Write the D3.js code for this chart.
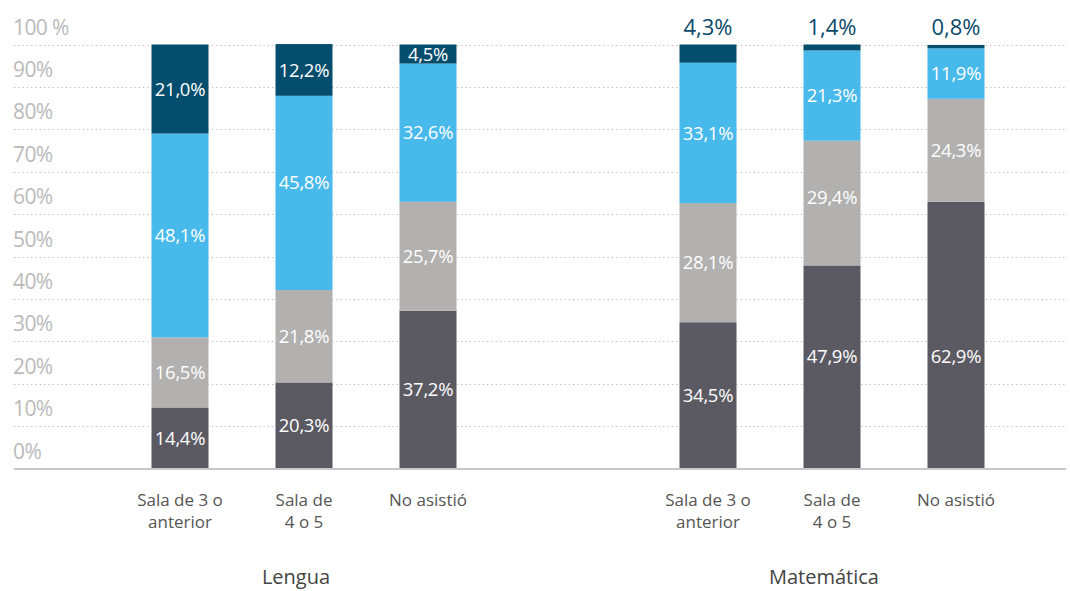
<!DOCTYPE html>
<html>
<head>
<meta charset="utf-8">
<script src="https://cdn.jsdelivr.net/npm/d3@7"></script>
<style>
  html, body { margin: 0; padding: 0; background: #fff; }
  svg { display: block; font-family: "Open Sans", Roboto, sans-serif; }
</style>
</head>
<body>
<svg id="chart" width="1070" height="591"></svg>
<script>
// ---- DATA ----
const groups = ["Lengua", "Matemática"];
const categories = [["Sala de 3 o", "anterior"], ["Sala de", "4 o 5"], ["No asistió"]];
const seriesNames = ["s1", "s2", "s3", "s4"];
const lenguaValues = [
  [14.4, 16.5, 48.1, 21.0],
  [20.3, 21.8, 45.8, 12.2],
  [37.2, 25.7, 32.6, 4.5]
];
const matematicaValues = [
  [34.5, 28.1, 33.1, 4.3],
  [47.9, 29.4, 21.3, 1.4],
  [62.9, 24.3, 11.9, 0.8]
];
const yTickValues = [0, 10, 20, 30, 40, 50, 60, 70, 80, 90, 100];
const yTickLabels = ["0%", "10%", "20%", "30%", "40%", "50%", "60%", "70%", "80%", "90%", "100 %"];

// ---- STYLE ----
const colors = ["#5b5a63", "#b2b1b0", "#47b9ea", "#044d6d"];
const barW = 57;
// small manual nudges of in-bar labels (pixels), as in the original artwork
const labelNudge = { "0-1-2": -11, "1-1-0": -11, "1-2-0": 21, "1-1-1": -6 };

const svg = d3.select("#chart");
const locale = d3.formatLocale({ decimal: ",", thousands: ".", grouping: [3], currency: ["", ""] });
const fmt = v => locale.format(".1f")(v) + "%";

const y = d3.scaleLinear().domain([0, 100]).range([468.5, 44.5]);
const x0 = d3.scalePoint().domain(groups).range([304, 832]);
const x1 = d3.scalePoint().domain(d3.range(categories.length)).range([-124, 124]);

// gridlines
svg.append("g").selectAll("line")
  .data(yTickValues.filter(v => v > 0))
  .join("line")
  .attr("x1", 14).attr("x2", 1066)
  .attr("y1", d => Math.round(y(d)) + 0.5).attr("y2", d => Math.round(y(d)) + 0.5)
  .attr("stroke", "#bdbdbd").attr("stroke-width", 1)
  .attr("stroke-dasharray", "1.3,3");

// y labels
svg.append("g").selectAll("text")
  .data(yTickValues)
  .join("text")
  .attr("x", 13).attr("y", d => y(d) - 10)
  .attr("fill", "#bababa").attr("font-size", 21)
  .attr("letter-spacing", -0.6)
  .text((d, i) => yTickLabels[i]);

const allValues = [lenguaValues, matematicaValues];

groups.forEach((g, gi) => {
  const vals = allValues[gi];
  vals.forEach((row, ci) => {
    const cx = x0(g) + x1(ci);
    const stack = [];
    let cum = 0;
    row.forEach((v, si) => { stack.push({ v, si, y0: cum, y1: cum + v }); cum += v; });
    const bg = svg.append("g");
    bg.selectAll("rect").data(stack).join("rect")
      .attr("x", cx - barW / 2).attr("width", barW)
      .attr("y", d => y(d.y1)).attr("height", d => y(d.y0) - y(d.y1))
      .attr("fill", d => colors[d.si]);
    bg.selectAll("text").data(stack).join("text")
      .attr("x", cx)
      .attr("y", d => {
        if (gi === 1 && d.si === 3) return y(100) - 10;
        return (y(d.y0) + y(d.y1)) / 2 + (labelNudge[gi + "-" + ci + "-" + d.si] || 0);
      })
      .attr("dy", d => (gi === 1 && d.si === 3) ? 0 : "0.36em")
      .attr("text-anchor", "middle")
      .attr("font-size", d => (gi === 1 && d.si === 3) ? 22 : 18.5)
      .attr("letter-spacing", d => (gi === 1 && d.si === 3) ? 0 : -0.3)
      .attr("fill", d => (gi === 1 && d.si === 3) ? "#0b4a6a" : "#ffffff")
      .text(d => fmt(d.v));

    // category label (one text per line)
    categories[ci].forEach((line, li) => {
      svg.append("text").attr("text-anchor", "middle")
        .attr("font-size", 17).attr("fill", "#555")
        .attr("x", cx).attr("y", 506 + li * 22).text(line);
    });
  });
  svg.append("text")
    .attr("x", x0(g) - 8).attr("y", 584)
    .attr("text-anchor", "middle").attr("font-size", 20).attr("fill", "#444")
    .text(g);
});

// baseline axis
svg.append("line")
  .attr("x1", 14).attr("x2", 1066).attr("y1", 469).attr("y2", 469)
  .attr("stroke", "#c8c8c8").attr("stroke-width", 2);
</script>
</body>
</html>
